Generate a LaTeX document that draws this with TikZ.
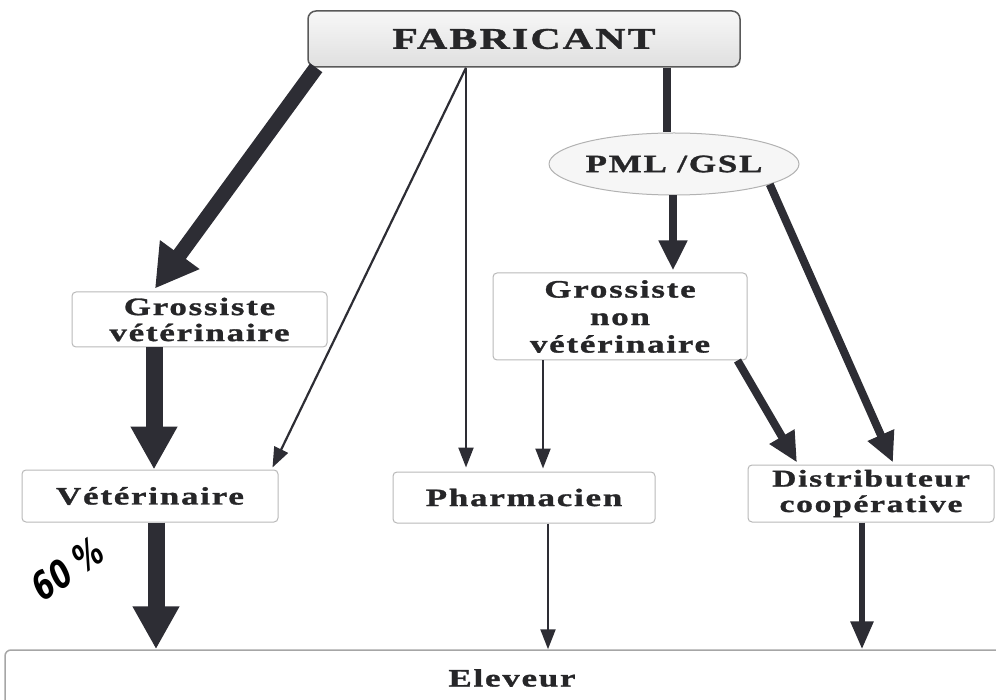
\documentclass[tikz,border=0pt]{standalone}
\usepackage{fontspec}
\setmainfont{Liberation Serif}[FakeStretch=1.4,LetterSpace=7,BoldFeatures={FakeBold=1.2}]
\newfontfamily\pctfont{DejaVu Sans}[FakeSlant=0.2]
\usetikzlibrary{arrows.meta,shapes.geometric,calc}
\definecolor{arrc}{RGB}{45,45,52}
\definecolor{txtc}{RGB}{38,38,40}
\tikzset{
  box/.style={draw=gray!55,line width=1pt,rounded corners=4pt,fill=white,text=txtc,
    font=\fontsize{25}{26}\selectfont\bfseries,align=center,inner sep=0pt},
  thickarr/.style={draw=arrc,line width=15pt,-{Triangle[width=46pt,length=42pt]}},
  bigarr/.style={draw=arrc,line width=17pt,-{Triangle[width=44pt,length=43pt]}},
  medarr/.style={draw=arrc,line width=8pt,-{Triangle[width=27pt,length=30pt]}},
  smallarr/.style={draw=arrc,line width=6pt,-{Triangle[width=22pt,length=28pt]}},
  thinarr/.style={draw=arrc,line width=2.2pt,-{Triangle[width=15pt,length=20pt]}},
  barline/.style={draw=arrc,line width=8pt},
}
\begin{document}
\begin{tikzpicture}[x=1pt,y=-1pt]
\useasboundingbox (0,0) rectangle (996,700);
\clip (0,0) rectangle (996,700);
% nodes
\node[box,draw=gray!70!black,line width=1.5pt,rounded corners=8pt,top color=gray!6,bottom color=gray!25,
  minimum width=432pt,minimum height=56pt,font=\fontsize{30}{33}\selectfont\bfseries] (fab) at (524,39) {FABRICANT};
\node[ellipse,draw=gray!60,line width=1pt,fill=gray!7,text=txtc,inner sep=0pt,
  minimum width=228pt,minimum height=62pt,font=\fontsize{25}{26}\selectfont\bfseries] (pml) at (674,164) {PML /GSL};
\node[box,minimum width=255pt,minimum height=55pt] (gv) at (199.5,319.5) {Grossiste\\vétérinaire};
\node[box,minimum width=254pt,minimum height=87pt,font=\fontsize{25}{27.5}\selectfont\bfseries] (gnv) at (620,316.5) {Grossiste\\non\\vétérinaire};
\node[box,minimum width=256pt,minimum height=52pt] (vet) at (150,496) {Vétérinaire};
\node[box,minimum width=262pt,minimum height=51pt] (pha) at (524,497.5) {Pharmacien};
\node[box,minimum width=246pt,minimum height=57pt,font=\fontsize{24}{25.5}\selectfont\bfseries] (dist) at (871,493.5) {Distributeur\\coopérative};
\node[box,draw=gray!70,line width=1.5pt,rounded corners=6pt,minimum width=1014pt,minimum height=56pt] (elev) at (512,678) {Eleveur};
\node[text=black,rotate=35,xscale=0.75,font=\pctfont\fontsize{38}{38}\selectfont\bfseries] (pct) at (66,570) {60 \%};
% connectors
\draw[thickarr] ([xshift=9pt]fab.south west) -- ([xshift=-44.5pt,yshift=3pt]gv.north);
\draw[thinarr] ([xshift=-58pt]fab.south) -- ([xshift=-6pt,yshift=2pt]vet.north east);
\draw[thinarr] ([xshift=-58pt]fab.south) -- ([xshift=-58pt,yshift=4pt]pha.north);
\draw[barline] ([xshift=143pt]fab.south) -- ([xshift=143pt]fab.south |- pml.north);
\draw[medarr] ([xshift=-1pt]pml.south) -- ([xshift=53pt,yshift=2pt]gnv.north);
\draw[medarr] (pml.-12) -- ([xshift=22pt,yshift=2pt]dist.north);
\draw[medarr] ([xshift=-10pt]gnv.south east) -- ([xshift=-74pt,yshift=2pt]dist.north);
\draw[thinarr] ([xshift=-77pt]gnv.south) -- ([xshift=19pt,yshift=3pt]pha.north);
\draw[bigarr] ([xshift=-45.5pt]gv.south) -- ([xshift=4pt]vet.north);
\draw[bigarr] ([xshift=6pt]vet.south) -- ([xshift=6pt]vet.south |- elev.north);
\draw[thinarr] ([xshift=24pt]pha.south) -- ([xshift=24pt]pha.south |- elev.north);
\draw[smallarr] ([xshift=-9pt]dist.south) -- ([xshift=-9pt]dist.south |- elev.north);
\end{tikzpicture}
\end{document}
